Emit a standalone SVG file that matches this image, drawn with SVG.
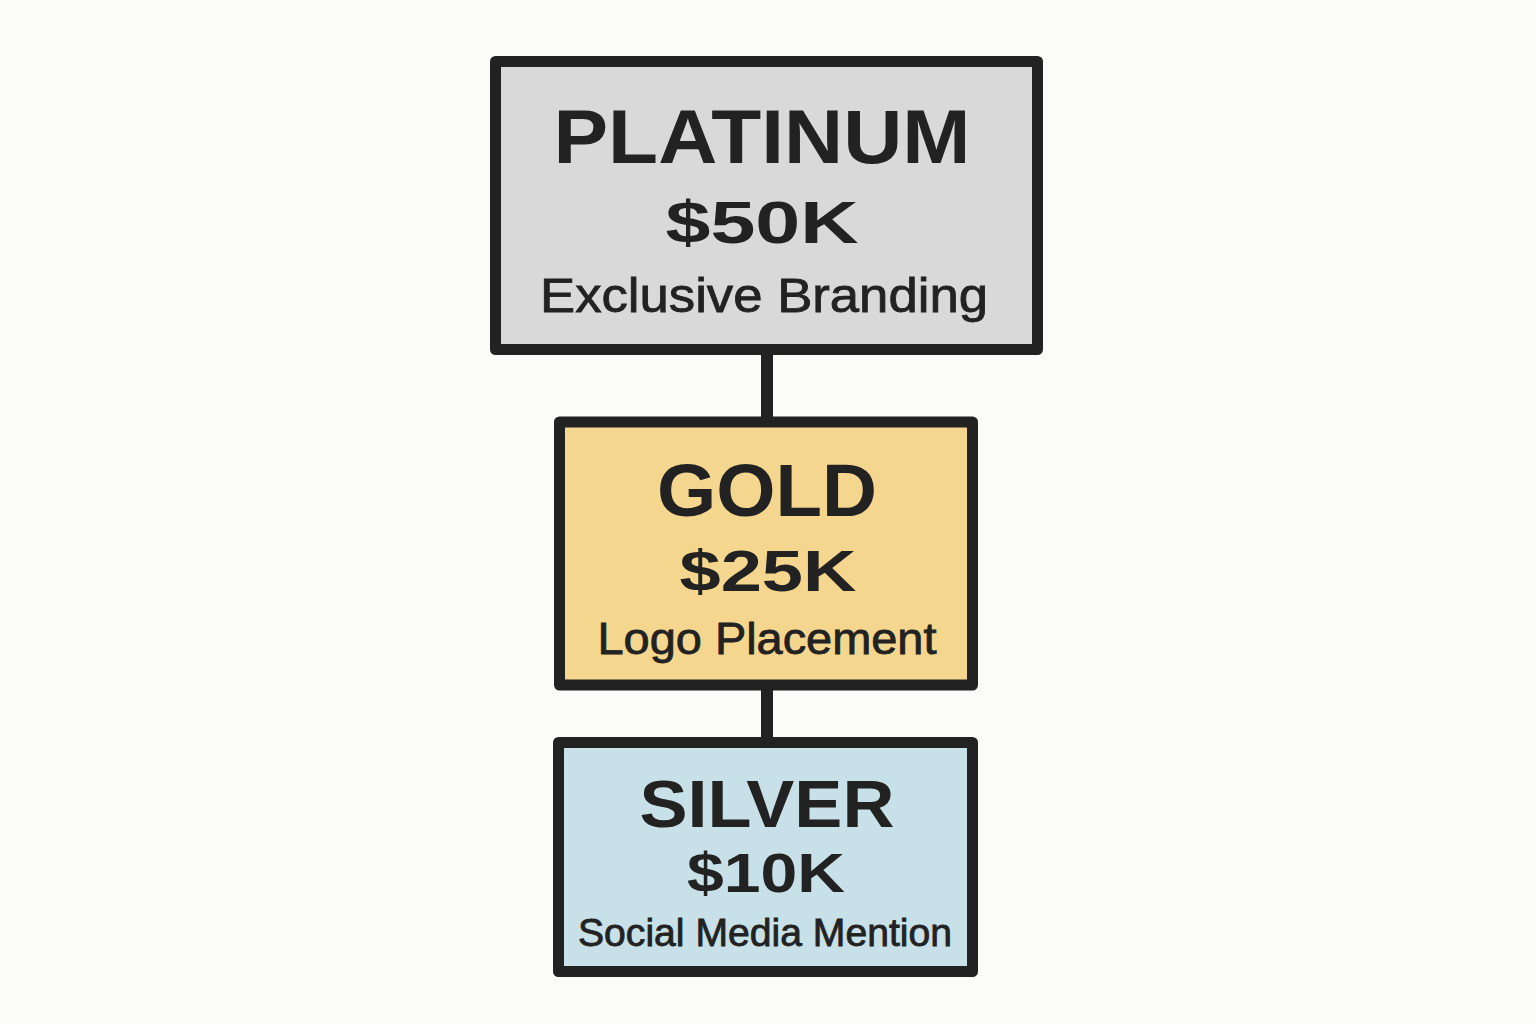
<svg xmlns="http://www.w3.org/2000/svg" width="1536" height="1024" viewBox="0 0 1536 1024">
<style>
.box{stroke:#222;stroke-width:11;stroke-linejoin:round}
.t{font-family:"Liberation Sans",Arial,sans-serif;fill:#222;text-anchor:middle;font-weight:700}
.s{font-weight:400;stroke:#222;stroke-width:0.8}
.conn{stroke:#222;stroke-width:12;fill:none}
</style>
<rect width="1536" height="1024" fill="#fbfbfa"/>
<g id="connectors">
<line class="conn" x1="767" y1="352" x2="767" y2="420"/>
<line class="conn" x1="767" y1="687" x2="767" y2="741"/>
</g>
<g id="platinum">
<rect class="box" x="495.5" y="61.5" width="542" height="288" fill="#d9d9d9"/>
<text class="t" x="762" y="163" font-size="76" textLength="417" lengthAdjust="spacingAndGlyphs">PLATINUM</text>
<text class="t" x="762" y="243" font-size="60" textLength="193" lengthAdjust="spacingAndGlyphs">$50K</text>
<text class="t s" x="764" y="312" font-size="48" textLength="448" lengthAdjust="spacingAndGlyphs">Exclusive Branding</text>
</g>
<g id="gold">
<rect class="box" x="559.5" y="422" width="413" height="263" fill="#f5d68e"/>
<text class="t" x="767" y="516" font-size="74" textLength="220" lengthAdjust="spacingAndGlyphs">GOLD</text>
<text class="t" x="768" y="591" font-size="58" textLength="177" lengthAdjust="spacingAndGlyphs">$25K</text>
<text class="t s" x="767" y="654" font-size="44" textLength="339" lengthAdjust="spacingAndGlyphs">Logo Placement</text>
</g>
<g id="silver">
<rect class="box" x="558.5" y="742.5" width="414" height="229" fill="#c8e0e7"/>
<text class="t" x="767" y="827" font-size="66" textLength="255" lengthAdjust="spacingAndGlyphs">SILVER</text>
<text class="t" x="766" y="892" font-size="56" textLength="158" lengthAdjust="spacingAndGlyphs">$10K</text>
<text class="t s" x="765" y="946" font-size="38" textLength="374" lengthAdjust="spacingAndGlyphs">Social Media Mention</text>
</g>
</svg>
